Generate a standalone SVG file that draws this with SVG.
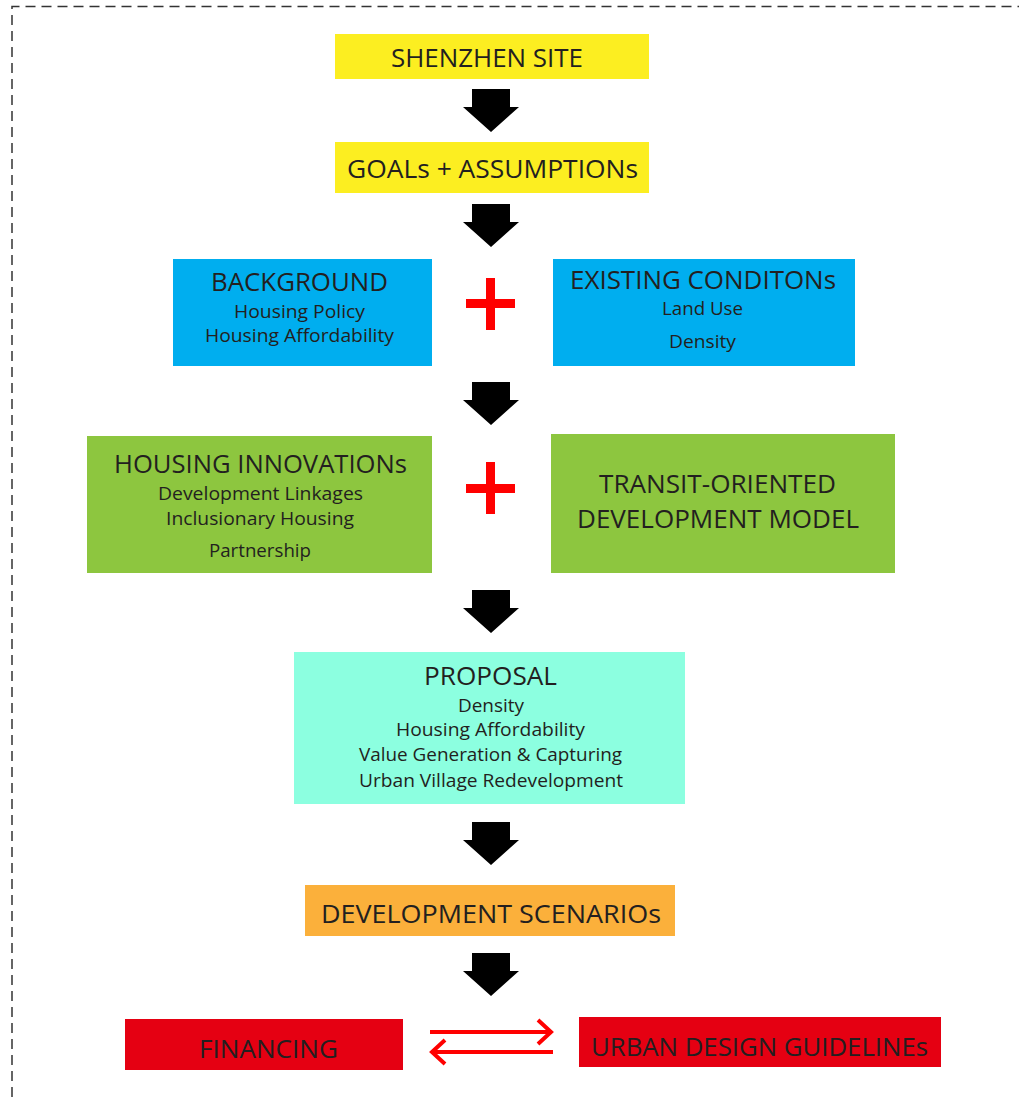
<svg xmlns="http://www.w3.org/2000/svg" width="1019" height="1097" viewBox="0 0 1019 1097">
<defs>
<style>
text{font-family:"Open Sans","Liberation Sans",sans-serif;fill:#231f20;text-anchor:middle}
.t{font-size:26px}
.s{font-size:19px}
.blk{fill:#000}
.plus{fill:#ff0000}
.rl{stroke:#ff0000;stroke-width:4;fill:none}
</style>
<path id="barrow" d="M-19,0 H19 V18 H28 L0,43 L-28,18 H-19 Z"/>
</defs>
<rect width="1019" height="1097" fill="#fff"/>
<path d="M12,1097 V6.5 H1019" fill="none" stroke="#333" stroke-width="1.5" stroke-dasharray="10 6"/>

<g id="n-site">
<rect x="335" y="34" width="314" height="45" fill="#fcee21"/>
<text class="t" x="487" y="67" textLength="192" lengthAdjust="spacingAndGlyphs">SHENZHEN SITE</text>
</g>
<g id="n-goals">
<rect x="335" y="142" width="314" height="51" fill="#fcee21"/>
<text class="t" x="492.5" y="178" textLength="291" lengthAdjust="spacingAndGlyphs">GOALs + ASSUMPTIONs</text>
</g>
<g id="n-background">
<rect x="173" y="259" width="259" height="107" fill="#00aeef"/>
<text class="t" x="299.5" y="291" textLength="177" lengthAdjust="spacingAndGlyphs">BACKGROUND</text>
<text class="s" x="299.5" y="318" textLength="131" lengthAdjust="spacingAndGlyphs">Housing Policy</text>
<text class="s" x="299.5" y="342" textLength="189" lengthAdjust="spacingAndGlyphs">Housing Affordability</text>
</g>
<g id="n-existing">
<rect x="553" y="259" width="302" height="107" fill="#00aeef"/>
<text class="t" x="703" y="289" textLength="266" lengthAdjust="spacingAndGlyphs">EXISTING CONDITONs</text>
<text class="s" x="702.5" y="315" textLength="81" lengthAdjust="spacingAndGlyphs">Land Use</text>
<text class="s" x="702.5" y="348" textLength="67" lengthAdjust="spacingAndGlyphs">Density</text>
</g>
<g id="n-housing">
<rect x="87" y="436" width="345" height="137" fill="#8dc63f"/>
<text class="t" x="260.5" y="473" textLength="293" lengthAdjust="spacingAndGlyphs">HOUSING INNOVATIONs</text>
<text class="s" x="260.5" y="500" textLength="205" lengthAdjust="spacingAndGlyphs">Development Linkages</text>
<text class="s" x="260" y="525" textLength="188" lengthAdjust="spacingAndGlyphs">Inclusionary Housing</text>
<text class="s" x="260" y="557" textLength="102" lengthAdjust="spacingAndGlyphs">Partnership</text>
</g>
<g id="n-tod">
<rect x="551" y="434" width="344" height="139" fill="#8dc63f"/>
<text class="t" x="717.5" y="493" textLength="237" lengthAdjust="spacingAndGlyphs">TRANSIT-ORIENTED</text>
<text class="t" x="718" y="528" textLength="282" lengthAdjust="spacingAndGlyphs">DEVELOPMENT MODEL</text>
</g>
<g id="n-proposal">
<rect x="294" y="652" width="391" height="152" fill="#8cffe0"/>
<text class="t" x="490.5" y="685" textLength="133" lengthAdjust="spacingAndGlyphs">PROPOSAL</text>
<text class="s" x="491" y="712" textLength="66" lengthAdjust="spacingAndGlyphs">Density</text>
<text class="s" x="490.5" y="736" textLength="189" lengthAdjust="spacingAndGlyphs">Housing Affordability</text>
<text class="s" x="490.5" y="761" textLength="263" lengthAdjust="spacingAndGlyphs">Value Generation &amp; Capturing</text>
<text class="s" x="491" y="787" textLength="264" lengthAdjust="spacingAndGlyphs">Urban Village Redevelopment</text>
</g>
<g id="n-scenarios">
<rect x="305" y="885" width="370" height="51" fill="#fbb03b"/>
<text class="t" x="491" y="923" textLength="340" lengthAdjust="spacingAndGlyphs">DEVELOPMENT SCENARIOs</text>
</g>
<g id="n-financing">
<rect x="125" y="1019" width="278" height="51" fill="#e50012"/>
<text class="t" x="268.5" y="1058" textLength="139" lengthAdjust="spacingAndGlyphs">FINANCING</text>
</g>
<g id="n-urban">
<rect x="579" y="1017" width="362" height="50" fill="#e50012"/>
<text class="t" x="759.5" y="1056" textLength="337" lengthAdjust="spacingAndGlyphs">URBAN DESIGN GUIDELINEs</text>
</g>

<g id="connectors">
<use href="#barrow" class="blk" x="491" y="89"/>
<use href="#barrow" class="blk" x="491" y="204"/>
<use href="#barrow" class="blk" x="491" y="382"/>
<use href="#barrow" class="blk" x="491" y="590"/>
<use href="#barrow" class="blk" x="491" y="822"/>
<use href="#barrow" class="blk" x="491" y="953"/>
<rect class="plus" x="466" y="299" width="49" height="9"/>
<rect class="plus" x="486" y="278" width="9" height="52"/>
<rect class="plus" x="466" y="484" width="49" height="9"/>
<rect class="plus" x="486" y="462" width="9" height="52"/>
<path class="rl" d="M430,1032 H551 M538,1020 L551,1032 L538,1044"/>
<path class="rl" d="M553,1052 H432 M445,1040 L432,1052 L445,1064"/>
</g>
</svg>
